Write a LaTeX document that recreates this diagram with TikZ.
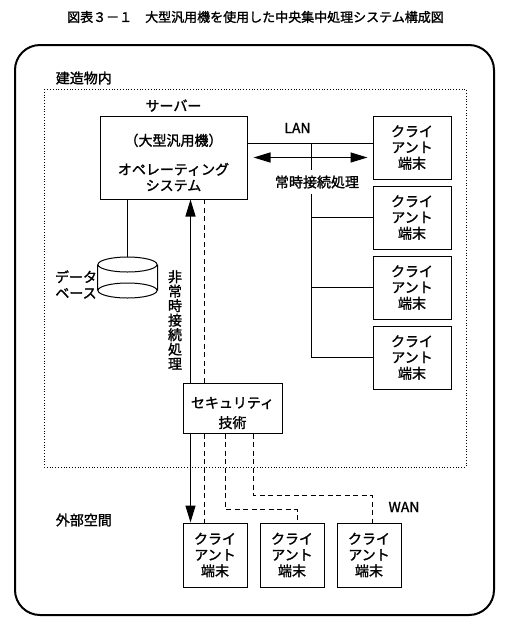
\documentclass[tikz,border=0pt]{standalone}
\usepackage{fontspec}
\setmainfont{Noto Sans CJK JP}[FakeBold=1.5]
\usetikzlibrary{arrows.meta, positioning}

\begin{document}
\begin{tikzpicture}[x=1pt, y=-1pt, >={Triangle[length=17pt,width=10pt]}, node distance=70pt, line width=1pt,
    font=\fontsize{14}{16}\selectfont,
    box/.style={draw, align=center, inner sep=0pt},
    client/.style={box, minimum width=78pt, minimum height=63pt},
    wan/.style={dash pattern=on 5pt off 3.5pt}]
    \useasboundingbox (0,0) rectangle (511,638);
    \node[font=\fontsize{13}{15}\selectfont] (TT) at (255.5,17) {図表３－１　大型汎用機を使用した中央集中処理システム構成図};
    \draw[line width=2pt, rounded corners=25pt] (15,45) rectangle (494,615);
    \draw[line width=0.8pt, dash pattern=on 0.8pt off 2pt] (44,89) rectangle (466,467);
    \node[anchor=west] (IN) at (52,78) {建造物内};
    \node[anchor=west] (OUT) at (52,520) {外部空間};

    \node[box, minimum width=147pt, minimum height=83pt] (SV) at (173.5,157.5) {};
    \node[align=center] (ST) at ([yshift=-5pt]SV.center) {（大型汎用機）\\[13pt]オペレーティング\\システム};
    \node[above=0pt of SV] (SL) {サーバー};
    \node[client] (C1) at (412,147.5) {クライ\\アント\\端末};
    \node[client, below of=C1] (C2) {クライ\\アント\\端末};
    \node[client, below of=C2] (C3) {クライ\\アント\\端末};
    \node[client, below of=C3] (C4) {クライ\\アント\\端末};

    \node[minimum width=59pt, minimum height=40pt, inner sep=0pt] (DB) at (127.5,277.5) {};
    \draw ([yshift=-7.5pt]DB.north) ellipse [x radius=29.5pt, y radius=7.5pt]
          ([yshift=7.5pt]DB.south) ellipse [x radius=29.5pt, y radius=7.5pt]
          ([yshift=-7.5pt]DB.north west) -- ([yshift=7.5pt]DB.south west)
          ([yshift=-7.5pt]DB.north east) -- ([yshift=7.5pt]DB.south east);
    \node[anchor=east, align=center, inner sep=0pt] (DL) at ([yshift=-7pt]DB.west) {データ\\ベース};
    \draw (DB.north |- SV.south) -- (DB.north);

    \node[box, minimum width=99pt, minimum height=50pt] (SEC) at (232.5,408) {};
    \node[align=center] (KT) at ([yshift=-5pt]SEC.center) {セキュリティ\\[4pt]技術};
    \node[client, minimum width=64pt, minimum height=64pt] (W1) at (215,555) {クライ\\アント\\端末};
    \node[client, minimum width=64pt, minimum height=64pt, right of=W1, node distance=77pt] (W2) {クライ\\アント\\端末};
    \node[client, minimum width=64pt, minimum height=64pt, right of=W2, node distance=77pt] (W3) {クライ\\アント\\端末};

    \draw ([yshift=14.5pt]SV.east) -- ([yshift=14.5pt]SV.east -| C1.west);
    \coordinate (B) at (311,143);
    \draw (B) |- (C4.west);
    \draw (B |- C2.west) -- (C2.west);
    \draw (B |- C3.west) -- (C3.west);
    \draw[<->, line width=1.3pt] ([xshift=6pt]SV.east) -- ([xshift=-5pt]SV.east -| C1.west);
    \node (LAN) at (297.5,128) {LAN};
    \node[fill=white, inner xsep=2pt, inner ysep=6pt] (JT) at (317,182) {常時接続処理};

    \draw[->, line width=1.3pt] ([xshift=8pt]SEC.north west) -- ([xshift=8pt]SEC.north west |- SV.south);
    \draw[wan] ([xshift=22pt]SEC.north west) -- ([xshift=22pt]SEC.north west |- SV.south);
    \draw[->, line width=1.3pt] ([xshift=8pt]SEC.south west) -- ([xshift=8pt]SEC.south west |- W1.north);
    \draw[wan] ([xshift=22pt]SEC.south west) -- ([xshift=22pt]SEC.south west |- W1.north);
    \draw[wan] ([xshift=43pt]SEC.south west) -- ++(0,76) -| ([xshift=5pt]W2.north);
    \draw[wan] ([xshift=71pt]SEC.south west) -- ++(0,62) -| ([xshift=3.5pt]W3.north);
    \node (WAN) at (404,507) {WAN};
    \node[align=center, font=\fontsize{14}{14.5}\selectfont] (NT) at (175,320) {非\\常\\時\\接\\続\\処\\理};
\end{tikzpicture}
\end{document}
